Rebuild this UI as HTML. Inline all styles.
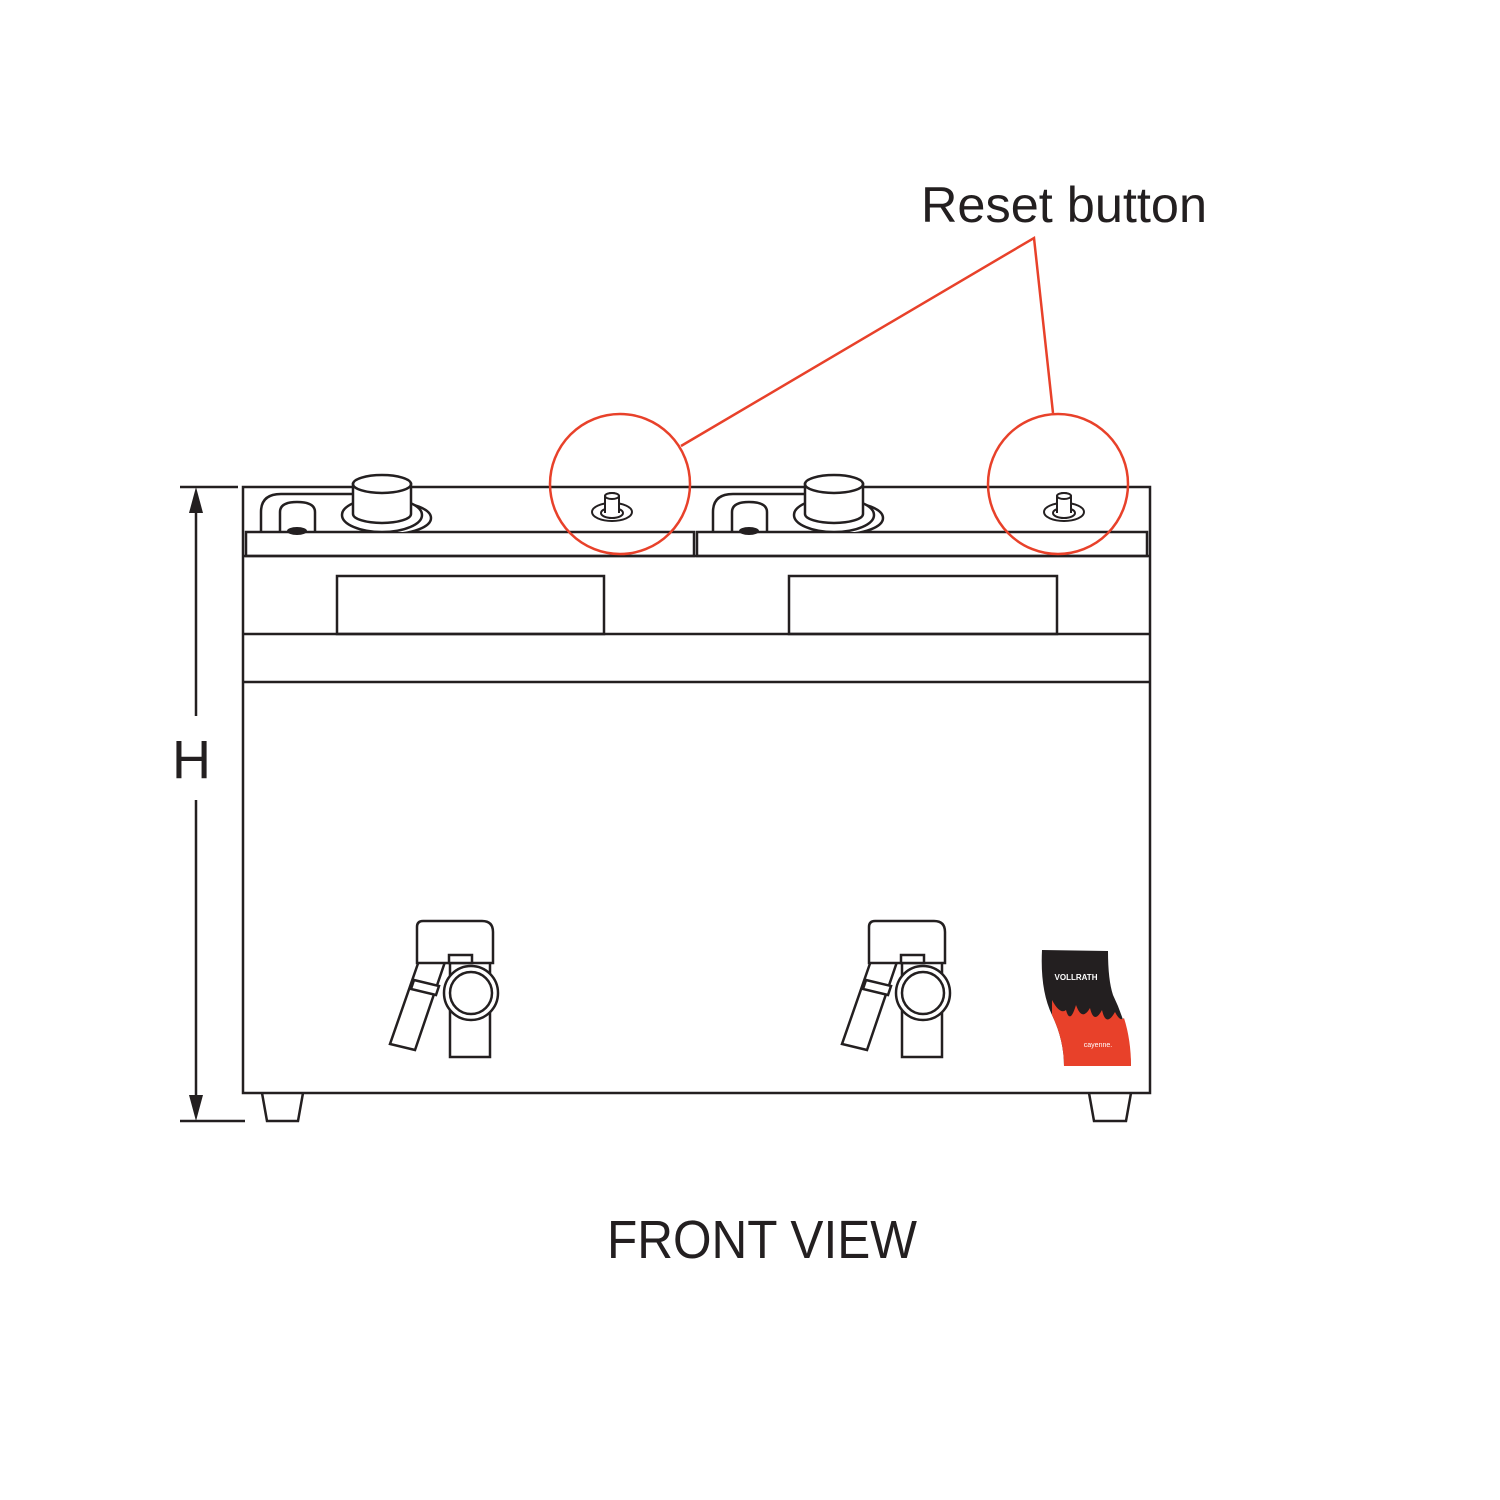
<!DOCTYPE html>
<html><head><meta charset="utf-8"><style>html,body{margin:0;padding:0;background:#fff}svg{display:block}</style></head>
<body>
<svg width="1500" height="1500" viewBox="0 0 1500 1500" xmlns="http://www.w3.org/2000/svg">
<defs>
<clipPath id="kc"><rect x="-100" y="440" width="200" height="92"/></clipPath>
<g id="knob" fill="#fff" stroke="#231f20" stroke-width="2.5">
  <g clip-path="url(#kc)">
  <ellipse cx="8" cy="518" rx="41" ry="16"/>
  <ellipse cx="0" cy="515" rx="40" ry="17"/>
  </g>
  <path d="M-29,484 L-29,514 A29,9 0 0 0 29,514 L29,484 Z"/>
  <ellipse cx="0" cy="484" rx="29" ry="9"/>
</g>
<g id="bracket" fill="none" stroke="#231f20" stroke-width="2.5">
  <path d="M261,532 L261,512 Q261,494 281,494 L352,494"/>
  <path d="M280,532 L280,512 Q280,502 297,502 Q315,502 315,512 L315,532"/>
  <ellipse cx="297" cy="531" rx="10" ry="4" fill="#231f20" stroke="none"/>
</g>
<g id="reset" fill="#fff" stroke="#231f20" stroke-width="2">
  <ellipse cx="612" cy="512" rx="20" ry="9"/>
  <ellipse cx="612" cy="513" rx="11" ry="5"/>
  <path d="M605,513 L605,496 A7,3 0 0 1 619,496 L619,513"/>
  <ellipse cx="612" cy="496" rx="7" ry="3"/>
</g>
<g id="faucet" fill="#fff" stroke="#231f20" stroke-width="2.5">
  <path d="M450,963 L450,1057 L490,1057 L490,963"/>
  <path d="M422,952 L447,956 L415,1050 L390,1044 Z"/>
  <path d="M414,980 L439,986 L436,995 L411,989 Z"/>
  <circle cx="471" cy="993" r="27"/>
  <circle cx="471" cy="993" r="21"/>
  <path d="M417,963 L417,927 Q417,921 423,921 L482,921 Q493,921 493,932 L493,963 Z"/>
  <rect x="449" y="955" width="23" height="8"/>
</g>
</defs>
<g fill="none" stroke="#231f20" stroke-width="2.5">
  <rect x="243" y="487" width="907" height="606"/>
  <rect x="246" y="532" width="448" height="24"/>
  <rect x="697" y="532" width="450" height="24"/>
  <line x1="243" y1="556" x2="1150" y2="556"/>
  <rect x="337" y="576" width="267" height="58"/>
  <rect x="789" y="576" width="268" height="58"/>
  <line x1="243" y1="634" x2="1150" y2="634"/>
  <line x1="243" y1="682" x2="1150" y2="682"/>
  <path d="M262,1093 L267,1121 L298,1121 L303,1093"/>
  <path d="M1089,1093 L1094,1121 L1126,1121 L1131,1093"/>
  <line x1="180" y1="487" x2="238" y2="487"/>
  <line x1="180" y1="1121" x2="245" y2="1121"/>
  <line x1="196" y1="510" x2="196" y2="716"/>
  <line x1="196" y1="800" x2="196" y2="1098"/>
</g>
<path d="M196,487 L189,513 L203,513 Z" fill="#231f20"/>
<path d="M196,1121 L189,1095 L203,1095 Z" fill="#231f20"/>
<use href="#bracket"/>
<use href="#bracket" transform="translate(452,0)"/>
<use href="#knob" transform="translate(382,0)"/>
<use href="#knob" transform="translate(834,0)"/>
<use href="#reset"/>
<use href="#reset" transform="translate(452,0)"/>
<use href="#faucet"/>
<use href="#faucet" transform="translate(452,0)"/>
<g>
  <path d="M1042,950 L1108,951 Q1108,980 1113,995 Q1130,1030 1131,1066 L1064,1066 Q1064,1040 1052,1015 Q1040,990 1042,950 Z" fill="#231f20"/>
  <path d="M1052,1000 Q1060,1015 1066,1010 Q1070,1025 1076,1005 Q1082,1022 1090,1008 Q1094,1025 1102,1010 Q1106,1028 1115,1012 Q1120,1022 1124,1018 Q1131,1040 1131,1066 L1064,1066 Q1064,1040 1052,1015 Z" fill="#e8412a"/>
  <text x="1076" y="980" font-family="Liberation Sans, sans-serif" font-size="8" font-weight="bold" fill="#fff" text-anchor="middle">VOLLRATH</text>
  <text x="1098" y="1047" font-family="Liberation Sans, sans-serif" font-size="7" fill="#fff" text-anchor="middle">cayenne.</text>
</g>
<g fill="none" stroke="#e8412a" stroke-width="2.5">
  <circle cx="620" cy="484" r="70"/>
  <circle cx="1058" cy="484" r="70"/>
  <path d="M681,446 L1034,238 L1053,413"/>
</g>
<text x="921" y="222" font-family="Liberation Sans, sans-serif" font-size="50" fill="#231f20" textLength="286" lengthAdjust="spacingAndGlyphs">Reset button</text>
<text x="172" y="778" font-family="Liberation Sans, sans-serif" font-size="54" fill="#231f20">H</text>
<text x="607" y="1258" font-family="Liberation Sans, sans-serif" font-size="54" fill="#231f20" textLength="310" lengthAdjust="spacingAndGlyphs">FRONT VIEW</text>
</svg>
</body></html>
